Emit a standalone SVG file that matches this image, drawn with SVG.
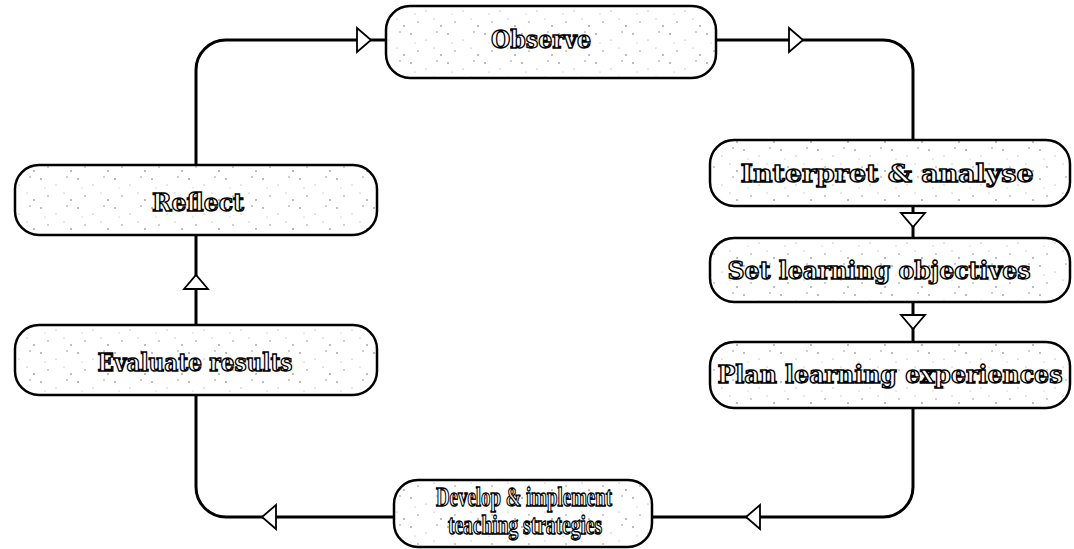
<svg xmlns="http://www.w3.org/2000/svg" xmlns:xlink="http://www.w3.org/1999/xlink" width="1074" height="549" viewBox="0 0 1074 549">
  <style>
    .box { fill: url(#speckle); stroke: #000; stroke-width: 2.5; }
    .lbl { font-family: "DejaVu Serif", "Liberation Serif", serif; font-weight: bold; font-size: 24px; fill: #fff; stroke: #000; stroke-width: 1.4; text-anchor: middle; }
    .lbl2 { font-family: "Liberation Serif", "DejaVu Serif", serif; font-weight: bold; font-size: 27px; fill: #fff; stroke: #000; stroke-width: 1.4; text-anchor: middle; }
    .conn { fill: none; stroke: #000; stroke-width: 3; }
    .arr { fill: #fff; stroke: #000; stroke-width: 1.8; stroke-linejoin: miter; }
  </style>
  <defs>
    <pattern id="speckle" width="37" height="29" patternUnits="userSpaceOnUse">
      <rect width="37" height="29" fill="#fff"/>
      <circle cx="4" cy="5" r="0.8" fill="#666"/>
      <circle cx="19" cy="11" r="0.6" fill="#888"/>
      <circle cx="30" cy="3" r="0.7" fill="#777"/>
      <circle cx="11" cy="22" r="0.7" fill="#777"/>
      <circle cx="27" cy="19" r="0.6" fill="#999"/>
      <circle cx="34" cy="26" r="0.8" fill="#666"/>
      <circle cx="8" cy="14" r="0.5" fill="#999"/>
    </pattern>
    <path id="tri" d="M-7,-12 L7,0 L-7,12 Z"/>
  </defs>

  <g id="connectors">
    <path class="conn" d="M386,40 H226 A30,30 0 0 0 196,70 V165"/>
    <path class="conn" d="M716,40 H883 A30,30 0 0 1 913,70 V140"/>
    <path class="conn" d="M913,206 V238"/>
    <path class="conn" d="M913,302 V342"/>
    <path class="conn" d="M913,408 V487 A30,30 0 0 1 883,517 H652"/>
    <path class="conn" d="M394,517 H226 A30,30 0 0 1 196,487 V395"/>
    <path class="conn" d="M196,325 V235"/>
    <use xlink:href="#tri" class="arr" transform="translate(364,40)"/>
    <use xlink:href="#tri" class="arr" transform="translate(796,40)"/>
    <use xlink:href="#tri" class="arr" transform="translate(913,220) rotate(90)"/>
    <use xlink:href="#tri" class="arr" transform="translate(913,322) rotate(90)"/>
    <use xlink:href="#tri" class="arr" transform="translate(753,517) rotate(180)"/>
    <use xlink:href="#tri" class="arr" transform="translate(269,517) rotate(180)"/>
    <use xlink:href="#tri" class="arr" transform="translate(196,282) rotate(-90)"/>
  </g>

  <g id="observe">
    <rect class="box" x="386" y="6" width="330" height="72" rx="24"/>
    <text class="lbl" x="541" y="48" textLength="100" lengthAdjust="spacingAndGlyphs">Observe</text>
  </g>
  <g id="interpret">
    <rect class="box" x="710" y="140" width="360" height="66" rx="24"/>
    <text class="lbl" x="887" y="182" textLength="293" lengthAdjust="spacingAndGlyphs">Interpret &amp; analyse</text>
  </g>
  <g id="objectives">
    <rect class="box" x="710" y="238" width="360" height="64" rx="24"/>
    <text class="lbl" x="879" y="279" textLength="303" lengthAdjust="spacingAndGlyphs">Set learning objectives</text>
  </g>
  <g id="plan">
    <rect class="box" x="710" y="342" width="360" height="66" rx="24"/>
    <text class="lbl" x="890" y="383" textLength="345" lengthAdjust="spacingAndGlyphs">Plan learning experiences</text>
  </g>
  <g id="develop">
    <rect class="box" x="394" y="480" width="258" height="67" rx="24"/>
    <text class="lbl2" x="524" y="506" textLength="176" lengthAdjust="spacingAndGlyphs">Develop &amp; implement</text>
    <text class="lbl2" x="525" y="534" textLength="154" lengthAdjust="spacingAndGlyphs">teaching strategies</text>
  </g>
  <g id="evaluate">
    <rect class="box" x="15" y="325" width="362" height="70" rx="24"/>
    <text class="lbl" x="195" y="371" textLength="195" lengthAdjust="spacingAndGlyphs">Evaluate results</text>
  </g>
  <g id="reflect">
    <rect class="box" x="15" y="165" width="362" height="70" rx="24"/>
    <text class="lbl" x="198" y="211" textLength="92" lengthAdjust="spacingAndGlyphs">Reflect</text>
  </g>
</svg>
